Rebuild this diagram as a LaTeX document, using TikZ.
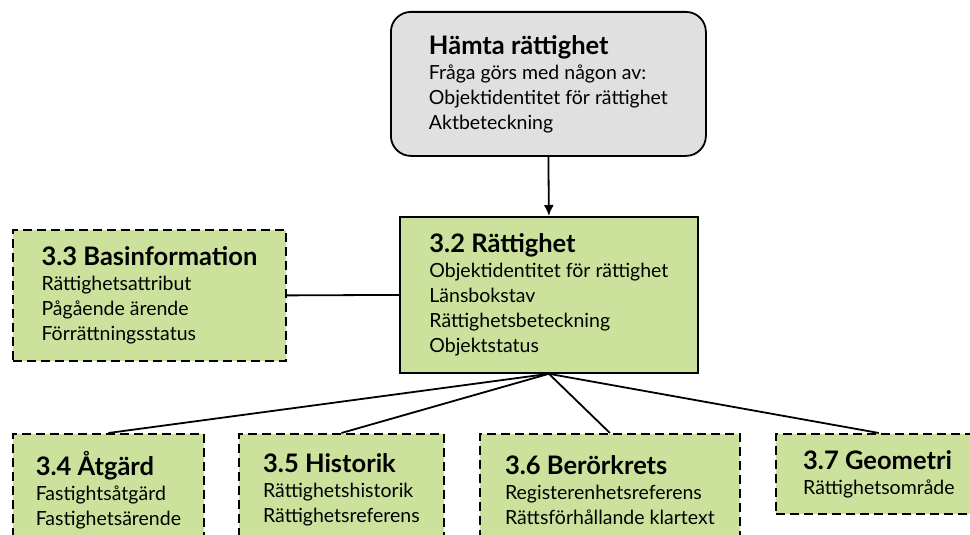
\documentclass[tikz,border=0pt]{standalone}
\usepackage{fontspec}
\setmainfont{Lato}
\usetikzlibrary{arrows.meta}
\definecolor{rgreen}{RGB}{204,226,156}
\definecolor{rgray}{RGB}{224,224,224}
\newcommand{\rubrik}[1]{{\bfseries\fontsize{25.5}{28}\selectfont #1}}

\begin{document}
\begin{tikzpicture}[x=1pt, y=-1pt, line width=1.8pt]
\tikzstyle{every node}=[draw, anchor=north west, align=left, inner sep=0pt, font=\fontsize{19.5}{25}\selectfont];
\tikzstyle{sok}=[fill=rgray, rounded corners=20pt];
\tikzstyle{klass}=[fill=rgreen];
\tikzstyle{delklass}=[klass, dash pattern=on 9pt off 5pt];
\useasboundingbox (0,0) rectangle (970,535);
\clip (0,0) rectangle (970,535);
\node[sok, minimum width=315pt, minimum height=144pt] (hamta) at (390,11)
  {\rubrik{Hämta rättighet}\\Fråga görs med någon av:\\Objektidentitet för rättighet\\Aktbeteckning};
\node[klass, minimum width=298pt, minimum height=156pt] (r32) at (399,216)
  {\rubrik{3.2 Rättighet}\\Objektidentitet för rättighet\\Länsbokstav\\Rättighetsbeteckning\\Objektstatus};
\node[delklass, minimum width=273pt, minimum height=131pt] (r33) at (12,229)
  {\rubrik{3.3 Basinformation}\\Rättighetsattribut\\Pågående ärende\\Förrättningsstatus};
\node[delklass, minimum width=191pt, minimum height=112pt] (r34) at (12,433)
  {\rubrik{3.4 Åtgärd}\\Fastightsåtgärd\\Fastighetsärende};
\node[delklass, minimum width=205pt, minimum height=112pt] (r35) at (238,433)
  {\rubrik{3.5 Historik}\\Rättighetshistorik\\Rättighetsreferens};
\node[delklass, minimum width=260pt, minimum height=112pt] (r36) at (479,433)
  {\rubrik{3.6 Berörkrets}\\Registerenhetsreferens\\Rättsförhållande klartext};
\node[delklass, minimum width=206pt, minimum height=80pt] (r37) at (775,433)
  {\rubrik{3.7 Geometri}\\Rättighetsområde};
\draw[-{Latex[length=11pt,width=10pt]}] (hamta.south) -- (r32.north);
\draw
(r33.east) -- (r32.west)
(r32.south) edge (r34.north) (r32.south) edge (r35.north)
(r32.south) edge (r36.north) (r32.south) edge (r37.north)
;
\end{tikzpicture}
\end{document}
